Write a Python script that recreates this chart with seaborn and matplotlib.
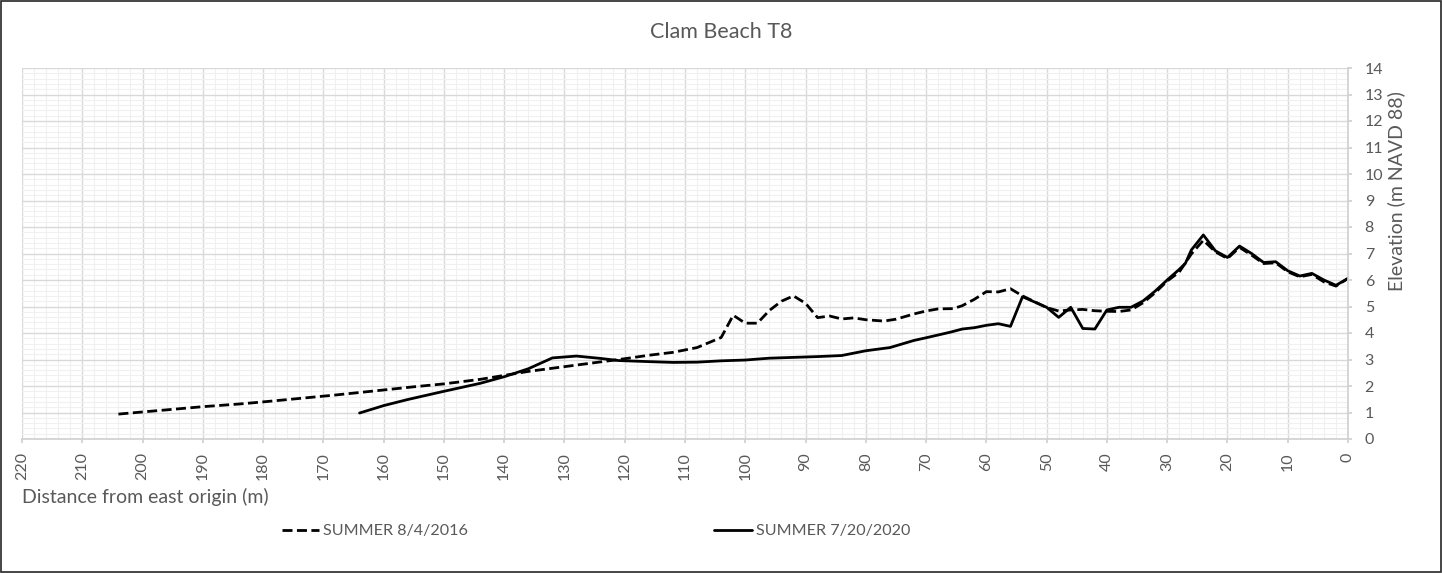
import numpy as np
import pandas as pd
import matplotlib
matplotlib.use("Agg")
import matplotlib.pyplot as plt
import seaborn as sns
from matplotlib.ticker import MultipleLocator
from matplotlib.patches import Rectangle

# ---------------------------------------------------------------------
# Profile data (distance from east origin, elevation)
# ---------------------------------------------------------------------
dist_2016 = [204, 200, 196, 190, 184, 180, 174, 168, 160, 155, 150, 144, 140,
             136, 130, 125, 120, 116, 112, 108, 104, 102, 100, 98, 96, 94, 92,
             90, 88, 86, 84, 82, 80, 77, 75, 72, 70, 68, 65.5, 64, 62, 60, 58,
             56, 54, 52, 50, 48, 46, 44, 42, 40, 38, 36, 34, 32, 30, 28, 26,
             24, 22, 20, 18, 16, 14, 12, 10, 8, 6, 4, 2, 0]
elev_2016 = [0.94, 1.02, 1.10, 1.22, 1.32, 1.40, 1.53, 1.66, 1.85, 1.97, 2.08,
             2.25, 2.40, 2.55, 2.73, 2.88, 3.03, 3.16, 3.27, 3.45, 3.83, 4.67,
             4.37, 4.37, 4.85, 5.20, 5.40, 5.12, 4.58, 4.64, 4.53, 4.57, 4.50,
             4.45, 4.52, 4.72, 4.83, 4.91, 4.92, 5.03, 5.27, 5.56, 5.55, 5.67,
             5.40, 5.18, 4.96, 4.83, 4.87, 4.89, 4.84, 4.82, 4.81, 4.87, 5.14,
             5.52, 5.96, 6.30, 6.98, 7.50, 7.06, 6.81, 7.23, 6.94, 6.62, 6.65,
             6.31, 6.12, 6.21, 5.93, 5.77, 6.06]

dist_2020 = [164, 160, 156, 150, 144, 140, 136, 132, 128, 124, 121, 116, 112,
             108, 104, 100, 96, 92, 88, 84, 80, 76, 72, 70, 66, 64, 62, 60, 58,
             56, 54, 50, 48, 46, 44, 42, 40, 38, 36, 34, 32, 30, 28, 27, 26,
             24, 22, 20, 18, 16, 14, 12, 10, 8, 6, 4, 2, 0]
elev_2020 = [0.98, 1.26, 1.49, 1.80, 2.10, 2.35, 2.65, 3.06, 3.13, 3.04, 2.96,
             2.92, 2.89, 2.90, 2.95, 2.98, 3.05, 3.08, 3.11, 3.15, 3.33, 3.45,
             3.72, 3.82, 4.03, 4.15, 4.20, 4.29, 4.35, 4.25, 5.37, 4.97, 4.59,
             4.97, 4.17, 4.15, 4.87, 4.97, 4.97, 5.21, 5.58, 6.00, 6.40, 6.62,
             7.13, 7.70, 7.10, 6.85, 7.28, 7.00, 6.66, 6.69, 6.35, 6.15, 6.25,
             6.00, 5.80, 6.06]

label_2016 = "SUMMER 8/4/2016"
label_2020 = "SUMMER 7/20/2020"

TEXT = "#595959"

sns.set_theme(style="white")
plt.rcParams['font.family'] = ['Lato', 'DejaVu Sans']

fig = plt.figure(figsize=(14.42, 5.73), dpi=100)
ax = fig.add_axes([22 / 1442, 1 - 439 / 573, (1348 - 22) / 1442, (439 - 68) / 573])

df16 = pd.DataFrame({"dist": dist_2016, "elev": elev_2016})
df20 = pd.DataFrame({"dist": dist_2020, "elev": elev_2020})

sns.lineplot(data=df16, x="dist", y="elev", ax=ax, color="black", lw=2,
             estimator=None, sort=False, label=label_2016)
sns.lineplot(data=df20, x="dist", y="elev", ax=ax, color="black", lw=2,
             estimator=None, sort=False, label=label_2020)
ax.lines[0].set_dashes((3.6, 1.6))

ax.set_xlim(220, 0)
ax.set_ylim(0, 14)
ax.xaxis.set_major_locator(MultipleLocator(10))
ax.xaxis.set_minor_locator(MultipleLocator(2))
ax.yaxis.set_major_locator(MultipleLocator(1))
ax.yaxis.set_minor_locator(MultipleLocator(0.2))

ax.grid(which="major", color="#d9d9d9", lw=1.0)
ax.grid(which="minor", color="#f0f0f0", lw=0.8)
ax.set_axisbelow(True)

for side in ["left", "top"]:
    ax.spines[side].set_visible(False)
ax.spines["bottom"].set_color("#d0d0d0")
ax.spines["right"].set_color("#d0d0d0")
ax.spines["bottom"].set_linewidth(1.2)
ax.spines["right"].set_linewidth(1.2)

ax.yaxis.tick_right()
ax.tick_params(axis="x", which="major", direction="out", length=3, color="#d0d0d0",
               labelcolor=TEXT, labelsize=11.5, rotation=90, pad=6.5, bottom=True)
ax.tick_params(axis="y", which="major", direction="out", length=3, color="#d0d0d0",
               labelcolor=TEXT, labelsize=11.5, pad=9, right=True, left=False)
ax.tick_params(which="minor", length=0)
ax.set_xlabel("")
ax.set_ylabel("")

fig.text(22 / 1442, 1 - 497 / 573, "Distance from east origin (m)", color=TEXT,
         fontsize=14, ha="left", va="center")
fig.text(1396 / 1442, 1 - 191 / 573, "Elevation (m NAVD 88)", color=TEXT,
         fontsize=14, ha="center", va="center", rotation=90)
fig.text(0.5, 1 - 32 / 573, "Clam Beach T8", color=TEXT, fontsize=15.5,
         ha="center", va="center")

leg = ax.legend(loc="center left", bbox_to_anchor=(282 / 1442, 1 - 531 / 573),
                bbox_transform=fig.transFigure, ncol=2, frameon=False,
                fontsize=11.6, handlelength=2.3, handletextpad=0.25,
                columnspacing=15.3, borderaxespad=0, borderpad=0)
for t in leg.get_texts():
    t.set_color(TEXT)

fig.patches.append(Rectangle((0.0005, 0.001), 0.9985, 0.997, transform=fig.transFigure,
                             fill=False, edgecolor="#262626", lw=1.2))

fig.savefig("out.png", dpi=100)
